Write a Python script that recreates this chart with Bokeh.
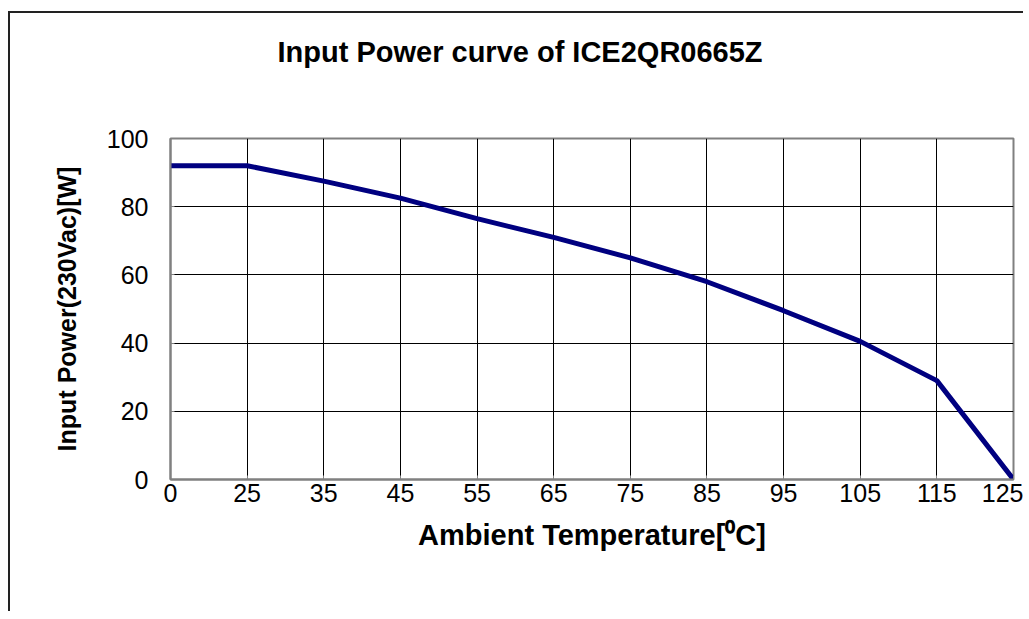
from bokeh.plotting import figure
from bokeh.models import FixedTicker, Range1d, Title
from bokeh.embed import file_html
from bokeh.resources import INLINE

temps = ["0", "25", "35", "45", "55", "65", "75", "85", "95", "105", "115", "125"]
power = [92, 92, 87.5, 82.5, 76.5, 71, 65, 58, 49.5, 40.5, 29, 0]
y_ticks = [0, 20, 40, 60, 80, 100]

title_text = "Input Power curve of ICE2QR0665Z"
x_title = "Ambient Temperature[\u2070C]"
y_title = "Input Power(230Vac)[W]"

xs = list(range(len(temps)))
FONT = "Liberation Sans"

p = figure(width=1015, height=600, output_backend="svg", toolbar_location=None,
           x_range=Range1d(0, len(temps) - 1), y_range=Range1d(0, 100),
           min_border_left=160, min_border_right=12, min_border_top=125, min_border_bottom=134,
           title=title_text)

p.title.align = "left"
p.title.offset = 107
p.title.standoff = 40
p.title.text_font = FONT
p.title.text_font_style = "bold"
p.title.text_font_size = "29px"
p.title.text_color = "black"

# empty spacer between the title and the plot area
p.add_layout(Title(text=" ", text_font_size="1px", standoff=48), "above")

p.line(xs, power, line_color="#000080", line_width=5)

p.xaxis.ticker = FixedTicker(ticks=xs)
p.xaxis.major_label_overrides = {i: t for i, t in enumerate(temps)}
p.yaxis.ticker = FixedTicker(ticks=y_ticks)

for ax in (p.xaxis, p.yaxis):
    ax.axis_line_color = "#808080"
    ax.axis_line_width = 2
    ax.major_tick_in = 4
    ax.major_tick_out = 0
    ax.major_tick_line_color = "#808080"
    ax.minor_tick_line_color = None
    ax.major_label_text_font = FONT
    ax.major_label_text_font_size = "25px"
    ax.major_label_text_color = "black"
    ax.axis_label_text_font = FONT
    ax.axis_label_text_font_style = "bold"
    ax.axis_label_text_color = "black"

p.xaxis.axis_label = x_title
p.yaxis.axis_label = y_title
p.xaxis.axis_label_text_font_size = "29px"
p.yaxis.axis_label_text_font_size = "25px"
p.xaxis.major_label_standoff = 4
p.yaxis.major_label_standoff = 22
p.xaxis.axis_label_standoff = 14
p.yaxis.axis_label_standoff = 23

p.xgrid.grid_line_color = "black"
p.ygrid.grid_line_color = "black"
p.xgrid.grid_line_width = 1
p.ygrid.grid_line_width = 1

p.outline_line_color = "#808080"
p.outline_line_width = 2
p.background_fill_color = "white"
p.border_fill_color = "white"

p.styles = {"margin-left": "8px", "margin-top": "11px",
            "border-top": "2px solid #222222", "border-left": "2px solid #222222"}

open("out.html", "w").write(file_html(p, INLINE))
